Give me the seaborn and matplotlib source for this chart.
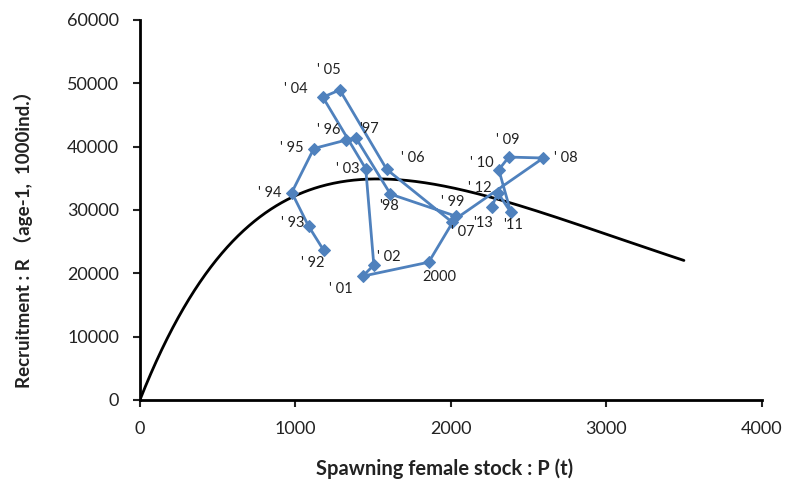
import numpy as np
import pandas as pd
import matplotlib
matplotlib.use("Agg")
import matplotlib.pyplot as plt
import seaborn as sns

# Stock-recruitment observations by year class
years = ["' 92", "' 93", "' 94", "' 95", "' 96", "'97", "'98", "' 99", "2000",
         "' 01", "' 02", "' 03", "' 04", "' 05", "' 06", "' 07", "' 08", "' 09",
         "' 10", "'11", "' 12", "'13"]
stock = [1183, 1085, 977, 1119, 1329, 1389, 1612, 2035, 1858,
         1434, 1505, 1453, 1177, 1286, 1588, 2005, 2595, 2373,
         2309, 2386, 2303, 2264]
recruit = [23600, 27450, 32750, 39700, 41050, 41400, 32500, 29000, 21750,
           19550, 21300, 36500, 47800, 48950, 36400, 28150, 38200, 38350,
           36350, 29650, 32700, 30500]

# Ricker curve parameters: R = a * P * exp(-b * P)
ricker_a = 62.0
ricker_b = 1 / 1530.0
curve_max_p = 3500

# label offsets (pixels) relative to each marker
label_offsets = [(-11, -13), (-16, 3), (-22, 0), (-22, 1), (-18, 10), (13, 9),
                 (-1, -12), (-4, 14), (11, -15), (-22, -13), (15, 8), (-18, 0),
                 (-27, 8), (-11, 20), (26, 11), (11, -10), (23, 0), (-1, 17),
                 (-17, 7), (2, -13), (-18, 5), (-9, -16)]

sns.set_theme(style="ticks")
plt.rcParams["font.family"] = ["Lato", "Noto Sans CJK JP", "DejaVu Sans"]

fig = plt.figure(figsize=(7.86, 4.86), dpi=100)
ax = fig.add_axes([0.178, 0.177, 0.791, 0.782])

p_curve = np.linspace(0, curve_max_p, 400)
r_curve = ricker_a * p_curve * np.exp(-ricker_b * p_curve)
curve_df = pd.DataFrame({"P": p_curve, "R": r_curve})
sns.lineplot(data=curve_df, x="P", y="R", color="black", linewidth=2.0,
             ax=ax, sort=False)

obs_df = pd.DataFrame({"year": years, "P": stock, "R": recruit})
sns.lineplot(data=obs_df, x="P", y="R", sort=False, estimator=None,
             color="#4F81BD", linewidth=2.0, marker="D", markersize=6,
             markeredgecolor="#4F81BD", ax=ax)

for lab, x, y, off in zip(years, stock, recruit, label_offsets):
    ax.annotate(lab, (x, y), xytext=off, textcoords="offset pixels",
                ha="center", va="center", fontsize=10.5, color="#222222")

ax.set_xlim(0, 4000)
ax.set_ylim(0, 60000)
ax.set_xticks(range(0, 4001, 1000))
ax.set_yticks(range(0, 60001, 10000))
ax.tick_params(axis="both", labelsize=13, length=5, width=1.5,
               colors="#222222")
ax.tick_params(axis="x", pad=10)
ax.tick_params(axis="y", pad=10)
for side in ["left", "bottom"]:
    ax.spines[side].set_linewidth(2.0)
    ax.spines[side].set_color("black")
sns.despine(ax=ax)

ax.set_xlabel("Spawning female stock : P (t)", fontsize=14.5,
              fontweight="bold", color="#222222")
ax.set_ylabel("Recruitment : R \uff08age-1,  1000ind.\uff09", fontsize=13.5,
              fontweight="bold", color="#222222")
ax.xaxis.set_label_coords(0.49, -0.155)
ax.yaxis.set_label_coords(-0.172, 0.435)

fig.savefig("out.png", dpi=100)
